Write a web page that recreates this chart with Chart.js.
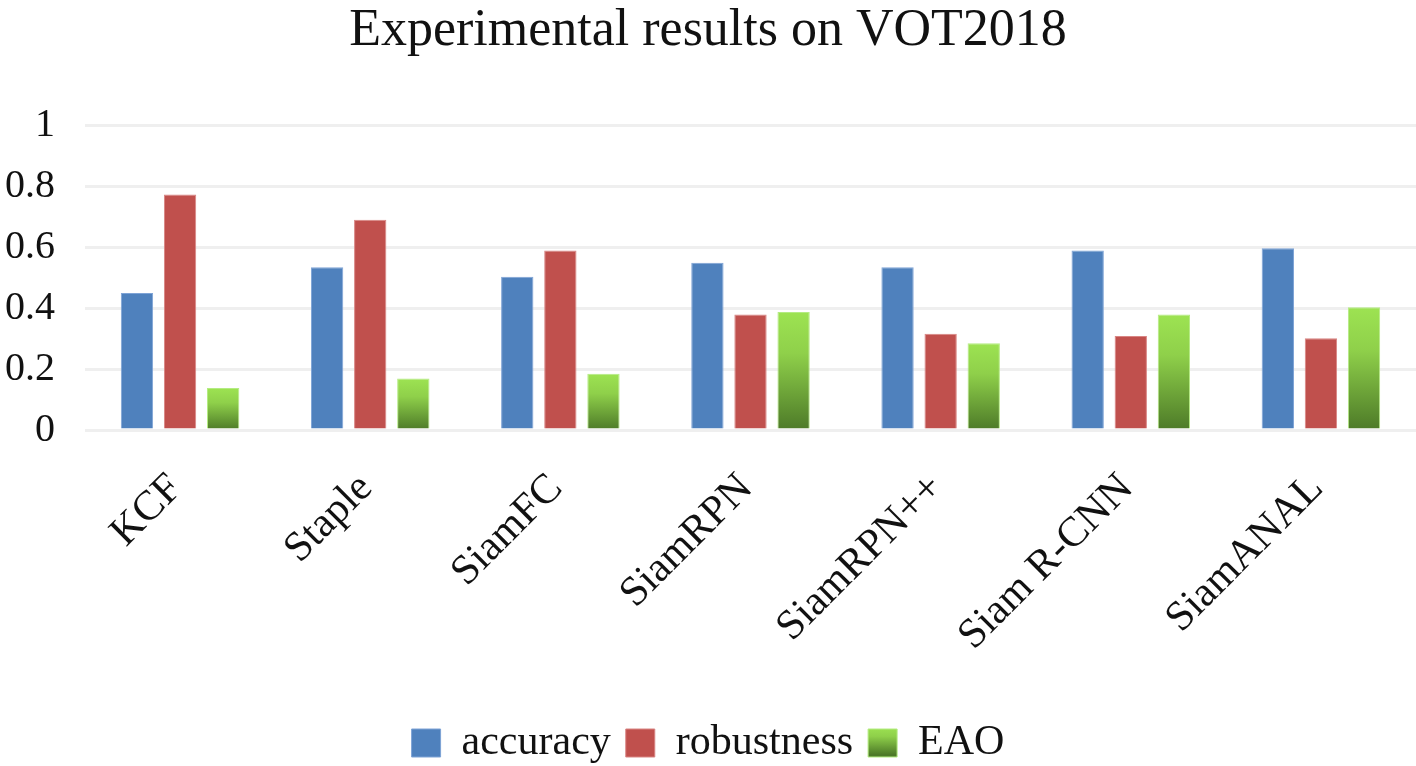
<!DOCTYPE html>
<html>
<head>
<meta charset="utf-8">
<script src="https://cdn.jsdelivr.net/npm/chart.js@4.4.0/dist/chart.umd.min.js"></script>
<style>
  html, body { margin: 0; padding: 0; background: #fff; }
  #wrap { width: 1416px; height: 766px; }
</style>
</head>
<body>
<div id="wrap"><canvas id="vot-chart"></canvas></div>
<script>
// values
var trackers = ["KCF", "Staple", "SiamFC", "SiamRPN", "SiamRPN++", "Siam R-CNN", "SiamANAL"];
var accuracy = [0.45, 0.534, 0.503, 0.549, 0.534, 0.589, 0.597];
var robustness = [0.773, 0.69, 0.589, 0.379, 0.316, 0.309, 0.301];
var eao = [0.138, 0.169, 0.185, 0.387, 0.285, 0.379, 0.403];
var yTicks = [0, 0.2, 0.4, 0.6, 0.8, 1];

var serif = "'Liberation Serif', 'Times New Roman', serif";

function greenGradient(c, top, bottom) {
  var g = c.createLinearGradient(0, top, 0, bottom);
  g.addColorStop(0, "#9de352");
  g.addColorStop(0.35, "#8fd04a");
  g.addColorStop(1, "#4d7a28");
  return g;
}

// EAO bars: light green at top fading to dark green at the base
function eaoFill(ctx) {
  var chart = ctx.chart;
  if (!chart.chartArea || ctx.type !== "data") return "#7fbf45";
  var y = chart.scales.y;
  return greenGradient(chart.ctx, y.getPixelForValue(ctx.raw), y.getPixelForValue(0));
}

var ctx = document.getElementById("vot-chart");
var myChart = new Chart(ctx, {
  type: "bar",
  data: {
    labels: trackers,
    datasets: [
      {
        label: "accuracy",
        data: accuracy,
        backgroundColor: "#4f81bd",
        borderColor: "#7ea3d6",
        borderWidth: 1,
      },
      {
        label: "robustness",
        data: robustness,
        backgroundColor: "#c0504d",
        borderColor: "#d98583",
        borderWidth: 1,
      },
      {
        label: "EAO",
        data: eao,
        backgroundColor: eaoFill,
        borderColor: "#b4ec82",
        borderWidth: 1,
      },
    ],
  },
  options: {
    responsive: true,
    maintainAspectRatio: false,
    animation: false,
    datasets: {
      bar: {
        categoryPercentage: 0.68,
        barPercentage: 0.75,
      },
    },
    layout: {
      padding: { left: 0, right: 0, top: 0, bottom: -8 },
    },
    scales: {
      x: {
        grid: { display: false },
        border: { display: false },
        afterFit: function (axis) {
          axis.height = 277;
        },
        ticks: {
          minRotation: 45,
          maxRotation: 45,
          padding: 26,
          labelOffset: -4,
          color: "#111",
          font: { family: serif, size: 42 },
        },
      },
      y: {
        min: 0,
        max: 1,
        afterBuildTicks: function (axis) {
          axis.ticks = yTicks.map(function (v) { return { value: v }; });
        },
        afterFit: function (axis) {
          axis.width = 85;
        },
        grid: { color: "#efefef", lineWidth: 3, drawTicks: false },
        border: { display: false },
        ticks: {
          padding: 30,
          color: "#111",
          font: { family: serif, size: 40 },
          callback: function (v) {
            return String(Number(v.toFixed(1)));
          },
        },
      },
    },
    plugins: {
      title: {
        display: true,
        text: "Experimental results on VOT2018",
        color: "#111",
        font: { family: serif, size: 52, weight: "normal" },
        padding: { top: 0, bottom: 63 },
      },
      legend: {
        position: "bottom",
        labels: {
          boxWidth: 29,
          boxHeight: 28,
          padding: 15,
          color: "#111",
          font: { family: serif, size: 42 },
          generateLabels: function (chart) {
            var items = Chart.defaults.plugins.legend.labels.generateLabels(chart);
            var lg = chart.legend;
            if (lg && lg.bottom > lg.top) {
              var mid = (lg.top + lg.bottom) / 2;
              items[2].fillStyle = greenGradient(chart.ctx, mid - 14, mid + 14);
            }
            return items;
          },
        },
      },
      tooltip: { enabled: false },
    },
  },
});
// second pass so the legend swatch can use the laid-out legend position
myChart.update();
</script>
</body>
</html>
